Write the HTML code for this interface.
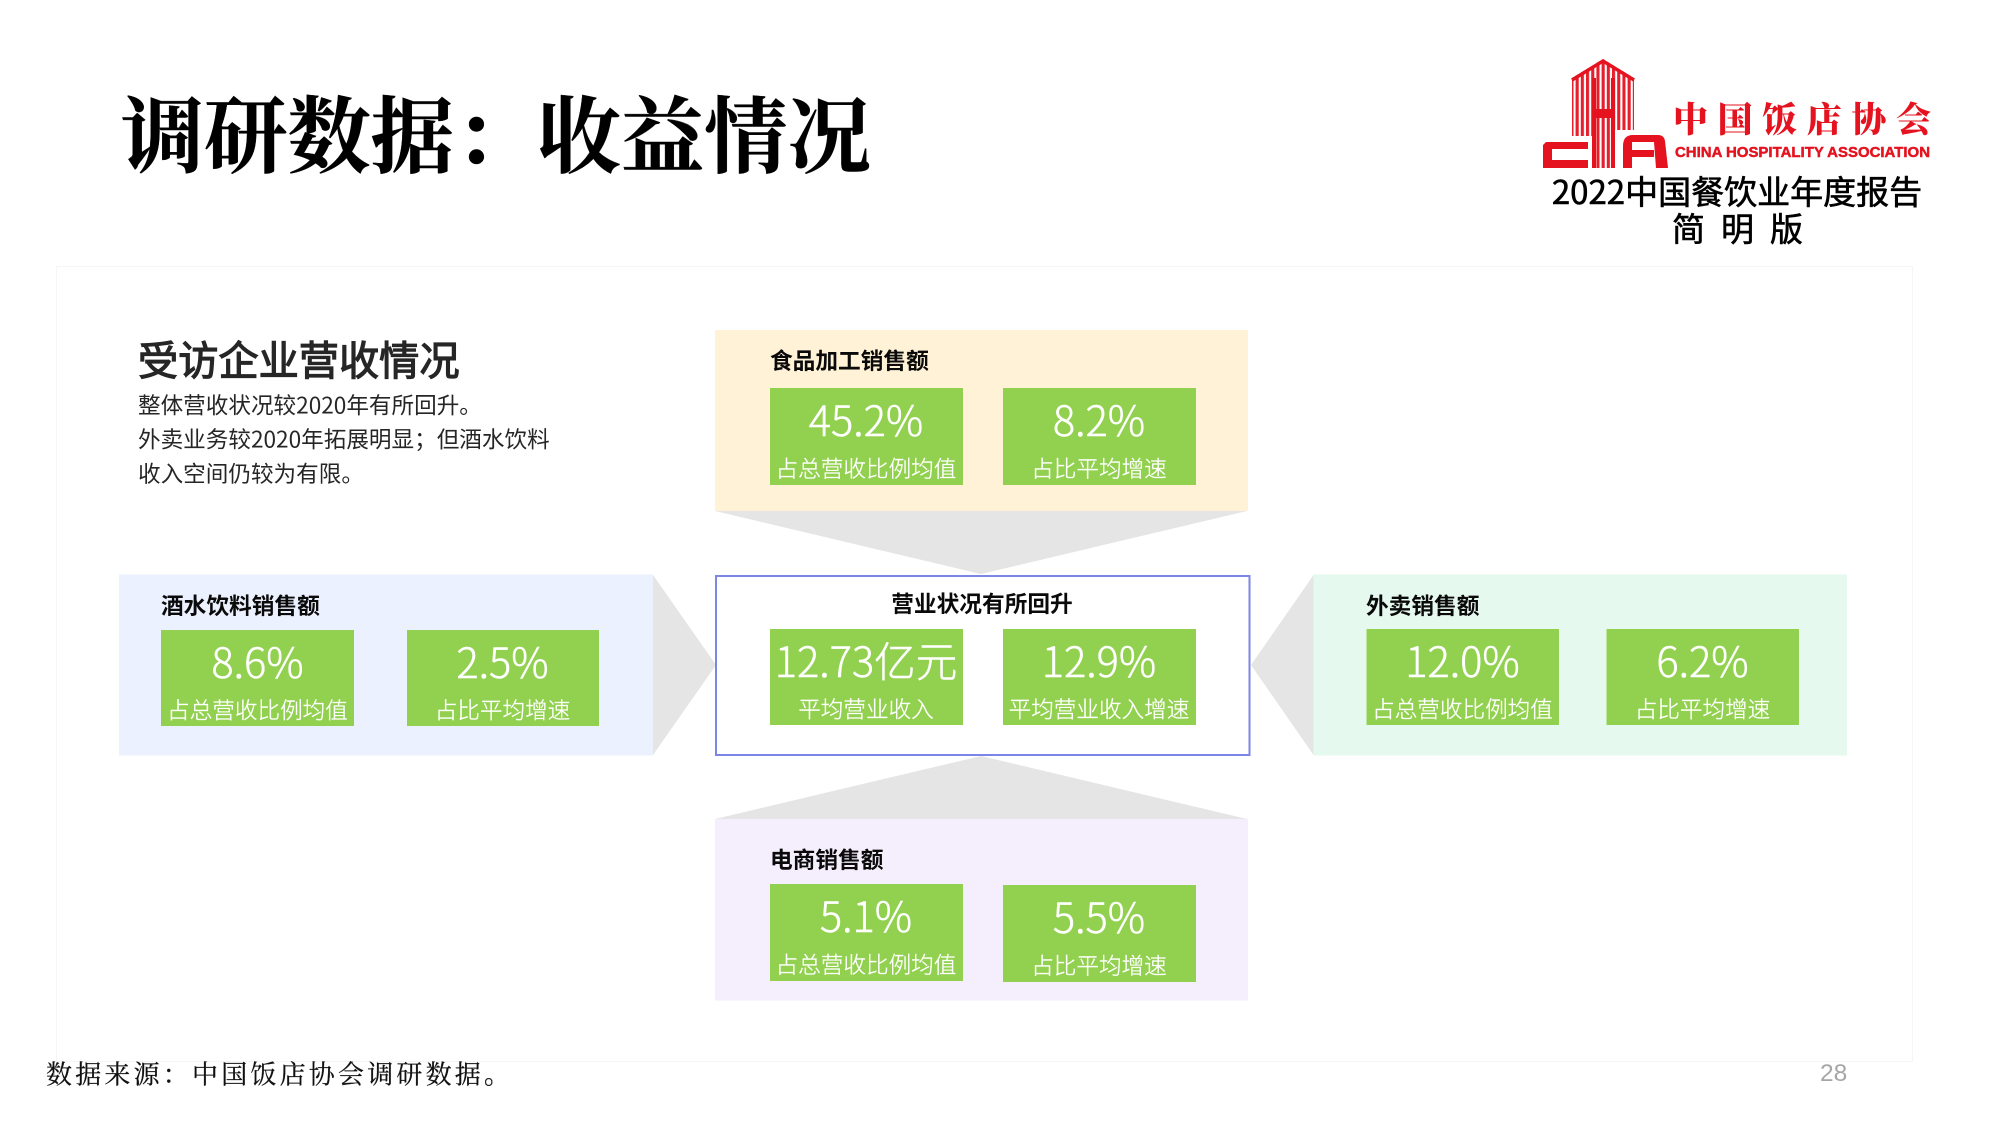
<!DOCTYPE html>
<html lang="zh-CN">
<head>
<meta charset="utf-8">
<title>调研数据：收益情况</title>
<style>
html,body{margin:0;padding:0;background:#fff;width:2000px;height:1125px;overflow:hidden}
svg{display:block}
text{font-family:"Liberation Sans","Noto Sans CJK SC",sans-serif}
.cjk{font-family:"Noto Sans CJK SC",sans-serif}
.t{font-size:22.7px;font-weight:700;fill:#0a0a0a}
.n{font-size:41.6px;font-weight:300;fill:#fff;stroke:#fff;stroke-width:.5;text-anchor:middle;font-family:"Noto Sans CJK SC",sans-serif}
.l{font-size:22.6px;font-weight:300;fill:#fff;stroke:#fff;stroke-width:.3;text-anchor:middle;font-family:"Noto Sans CJK SC",sans-serif}
.b{font-size:22.6px;fill:#262626;font-family:"Noto Sans CJK SC",sans-serif}
.g{fill:#92d14f}
</style>
</head>
<body>
<svg width="2000" height="1125" viewBox="0 0 2000 1125" xmlns="http://www.w3.org/2000/svg">
<defs>
<pattern id="st" width="5.2" height="10" patternUnits="userSpaceOnUse"><rect width="3.1" height="10" fill="#e5202c"/></pattern>
</defs>
<rect width="2000" height="1125" fill="#fff"/>

<!-- panel -->
<rect x="56.5" y="266.5" width="1856" height="795" fill="#fff" stroke="#f5f5f5" stroke-width="1"/>

<!-- title -->
<text x="120.500" y="166" font-size="83.4" font-weight="700" fill="#000" stroke="#000" stroke-width=".4" style="font-family:'Noto Serif CJK SC',serif">调研数据：收益情况</text>

<!-- logo -->
<polygon points="1572,78 1603,59 1634,78 1634,130 1615,130 1615,168 1592,168 1592,136 1572,136" fill="url(#st)"/>
<polyline points="1572,80 1603,61 1634,80" fill="none" stroke="#e5131f" stroke-width="3.5"/>
<rect x="1592" y="78" width="4" height="90" fill="#e5131f"/>
<rect x="1611" y="78" width="4" height="90" fill="#e5131f"/>
<rect x="1596" y="109" width="15" height="9" fill="#e5131f"/>
<path d="M1546,142H1588V149H1552V160H1588V168H1543V145Z" fill="#e5131f"/>
<path d="M1623,168V146Q1623,135 1633,135H1658Q1664,135 1665,141L1668,168H1656L1654,142H1632V150H1654V157H1632V168Z" fill="#e5131f"/>
<text x="1673" y="132" font-size="35" font-weight="900" fill="#e5131f" textLength="258" lengthAdjust="spacing" style="font-family:'Noto Serif CJK SC',serif">中国饭店协会</text>
<text x="1675" y="157" font-size="14.5" font-weight="700" fill="#e5131f" stroke="#e5131f" stroke-width=".45" textLength="255" lengthAdjust="spacingAndGlyphs">CHINA HOSPITALITY ASSOCIATION</text>
<text x="1737" y="204" font-size="33" fill="#000" text-anchor="middle" stroke="#000" stroke-width=".6" class="cjk">2022中国餐饮业年度报告</text>
<text x="1672" y="241" font-size="33" fill="#000" stroke="#000" stroke-width=".6" class="cjk" letter-spacing="16">简明版</text>

<!-- left text -->
<text x="138" y="375" font-size="40.2" fill="#262626" stroke="#262626" stroke-width="1.2" class="cjk">受访企业营收情况</text>
<text x="138" y="413.500" class="b">整体营收状况较2020年有所回升。</text>
<text x="138" y="447.500" class="b">外卖业务较2020年拓展明显；但酒水饮料</text>
<text x="138" y="482" class="b">收入空间仍较为有限。</text>

<!-- gray arrows -->
<polygon points="715,511 1247,511 981,574" fill="#e5e5e5"/>
<polygon points="981,756 715,819 1247,819" fill="#e5e5e5"/>
<polygon points="653,575 653,755 716,665" fill="#e5e5e5"/>
<polygon points="1313.5,575 1313.5,755 1251,665" fill="#e5e5e5"/>

<!-- panels -->
<rect x="715" y="330" width="533" height="181" fill="#fff2d6"/>
<rect x="119" y="574.500" width="534" height="181" fill="#ebf1fe"/>
<rect x="1313.5" y="574.500" width="533.5" height="181" fill="#e6f9ef"/>
<rect x="715" y="819" width="533" height="181.500" fill="#f5eefd"/>
<rect x="716" y="576" width="533.500" height="179" fill="#fff" stroke="#7c86e6" stroke-width="2"/>

<!-- top -->
<text x="770" y="369" class="t cjk">食品加工销售额</text>
<rect class="g" x="770" y="388" width="193" height="97"/>
<rect class="g" x="1003" y="388" width="193" height="97"/>
<text x="866" y="436" class="n">45.2%</text>
<text x="866" y="477" class="l">占总营收比例均值</text>
<text x="1099" y="436" class="n">8.2%</text>
<text x="1099" y="477" class="l">占比平均增速</text>

<!-- left -->
<text x="161" y="614" class="t cjk">酒水饮料销售额</text>
<rect class="g" x="161" y="630" width="193" height="96"/>
<rect class="g" x="407" y="630" width="192" height="96"/>
<text x="257.500" y="678" class="n">8.6%</text>
<text x="257.500" y="718.500" class="l">占总营收比例均值</text>
<text x="502.500" y="678" class="n">2.5%</text>
<text x="502.500" y="718.500" class="l">占比平均增速</text>

<!-- center -->
<text x="982" y="612" class="t cjk" text-anchor="middle">营业状况有所回升</text>
<rect class="g" x="770" y="629" width="193" height="96"/>
<rect class="g" x="1003" y="629" width="193" height="96"/>
<text x="866" y="677" class="n">12.73亿元</text>
<text x="866" y="717.500" class="l">平均营业收入</text>
<text x="1099" y="677" class="n">12.9%</text>
<text x="1099" y="717.500" class="l">平均营业收入增速</text>

<!-- right -->
<text x="1366" y="614" class="t cjk">外卖销售额</text>
<rect class="g" x="1366.500" y="629" width="192.500" height="96"/>
<rect class="g" x="1606.500" y="629" width="192.500" height="96"/>
<text x="1462.500" y="677" class="n">12.0%</text>
<text x="1462.500" y="717.500" class="l">占总营收比例均值</text>
<text x="1702.500" y="677" class="n">6.2%</text>
<text x="1702.500" y="717.500" class="l">占比平均增速</text>

<!-- bottom -->
<text x="770" y="868" class="t cjk">电商销售额</text>
<rect class="g" x="770" y="884" width="193" height="97"/>
<rect class="g" x="1003" y="885" width="193" height="97"/>
<text x="866" y="932" class="n">5.1%</text>
<text x="866" y="973" class="l">占总营收比例均值</text>
<text x="1099" y="933" class="n">5.5%</text>
<text x="1099" y="974" class="l">占比平均增速</text>

<!-- footer -->
<text x="46" y="1083.500" font-size="26" fill="#111" stroke="#111" stroke-width=".25" letter-spacing="3.2" style="font-family:'Noto Serif CJK SC',serif">数据来源：中国饭店协会调研数据。</text>
<text x="1820" y="1081" font-size="24.500" fill="#a6a6a6">28</text>
</svg>
</body>
</html>
